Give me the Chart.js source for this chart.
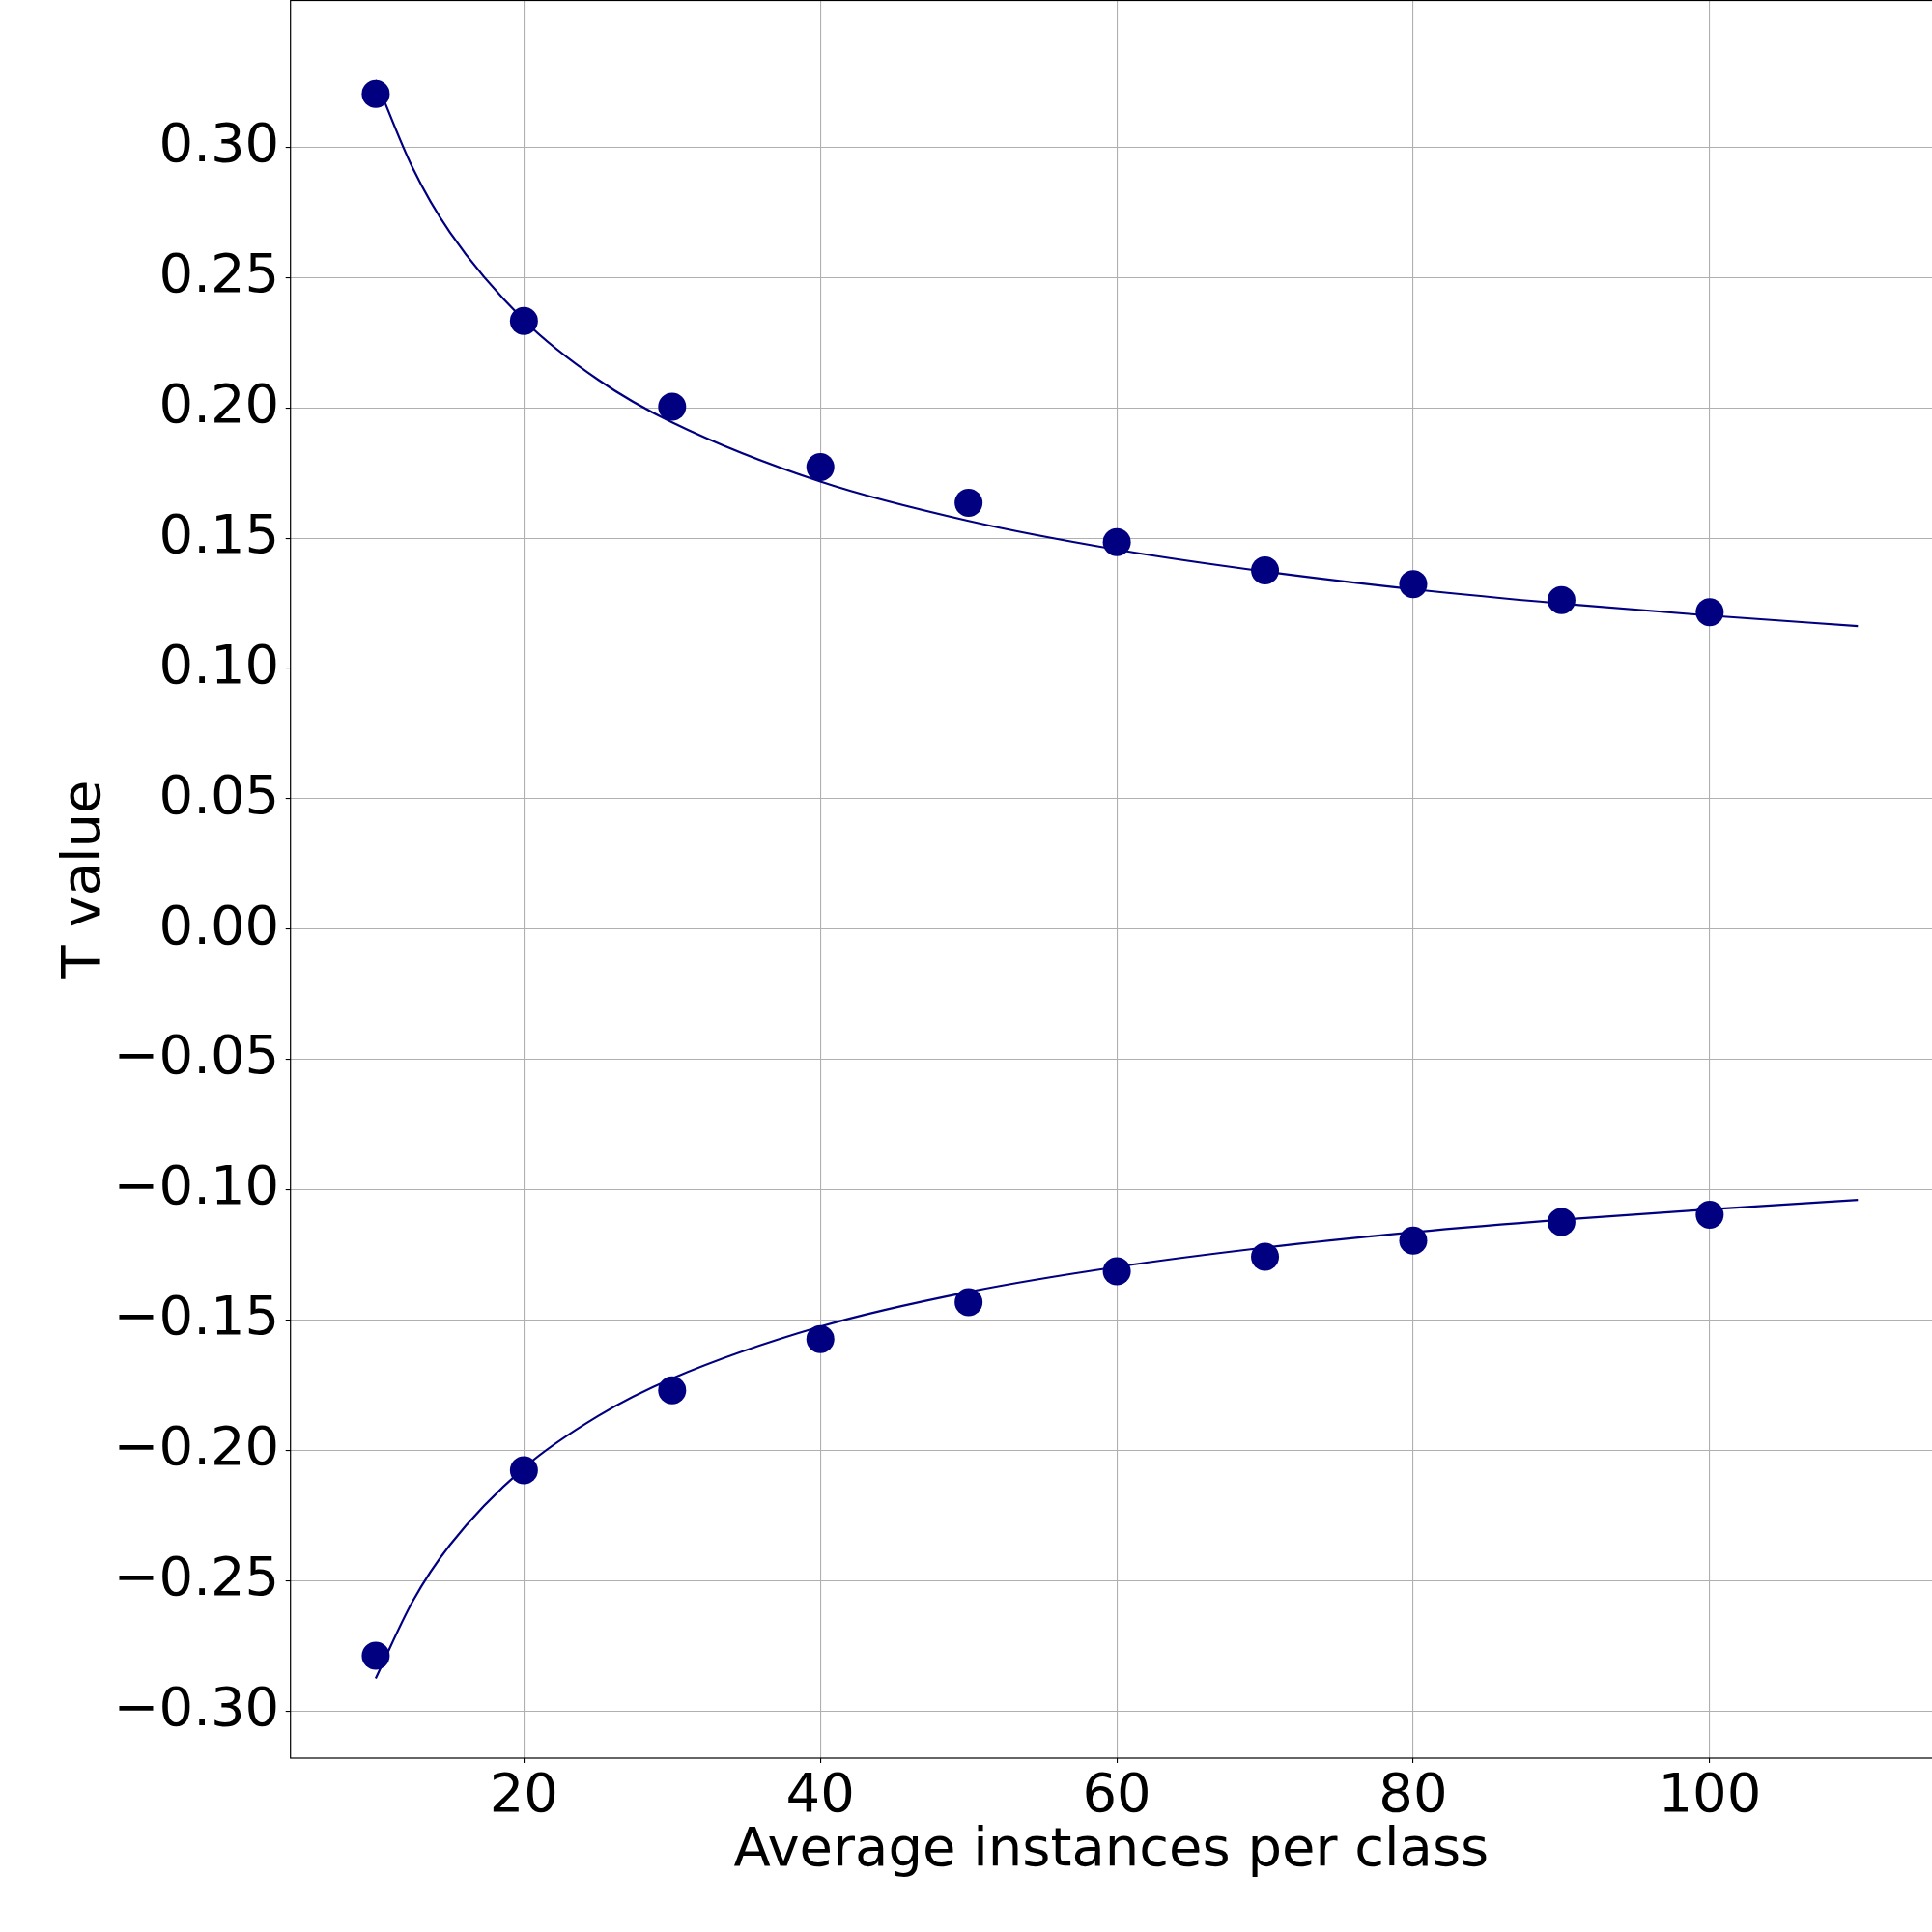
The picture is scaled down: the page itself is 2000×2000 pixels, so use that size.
<!DOCTYPE html>
<html>
<head>
<meta charset="utf-8">
<script src="https://cdn.jsdelivr.net/npm/chart.js@4.4.0/dist/chart.umd.min.js"></script>
<style>
  body { margin: 0; background: #fff; }
  #chart { display: block; }
</style>
</head>
<body>
<canvas id="chart" width="2000" height="2000"></canvas>
<script>
// measured points
const xValues     = [10, 20, 30, 40, 50, 60, 70, 80, 90, 100];
const upperPoints = [0.3204, 0.2333, 0.2004, 0.1773, 0.1636, 0.1485, 0.1376, 0.1323, 0.1262, 0.1216];
const lowerPoints = [-0.2786, -0.2075, -0.1768, -0.1572, -0.1430, -0.1312, -0.1256, -0.1194, -0.1123, -0.1095];

// fitted curves
const curveX     = [10, 12.5, 15, 20, 25, 30, 40, 50, 60, 70, 80, 90, 100, 110];
const upperCurve = [0.3257, 0.2919, 0.2673, 0.2336, 0.2108, 0.1944, 0.1717, 0.1566, 0.1456, 0.1372, 0.1304, 0.1249, 0.1203, 0.1163];
const lowerCurve = [-0.2873, -0.2577, -0.2362, -0.2066, -0.1867, -0.1723, -0.1524, -0.1391, -0.1295, -0.1221, -0.1162, -0.1114, -0.1074, -0.1038];

const xTicks = [20, 40, 60, 80, 100];
const yTicks = [-0.30, -0.25, -0.20, -0.15, -0.10, -0.05, 0.00, 0.05, 0.10, 0.15, 0.20, 0.25, 0.30];

const navy = '#000080';
const font = { family: 'DejaVu Sans', size: 56 };

function pairs(xs, ys) {
    return xs.map((x, i) => ({ x: x, y: ys[i] }));
}

const frame = {
    id: 'frame',
    afterDraw(chart) {
        const a = chart.chartArea;
        const ctx = chart.ctx;
        ctx.save();
        ctx.strokeStyle = '#000';
        ctx.lineWidth = 1.2;
        ctx.strokeRect(a.left, a.top + 0.5, a.right - a.left + 2, a.bottom - a.top - 0.5);
        ctx.restore();
    }
};

const curveStyle = {
    showLine: true,
    borderColor: navy,
    borderWidth: 2.2,
    pointRadius: 0,
    cubicInterpolationMode: 'monotone',
    order: 0
};
const dotStyle = {
    showLine: false,
    backgroundColor: navy,
    borderColor: navy,
    borderWidth: 0,
    pointRadius: 14.5,
    order: 1
};

new Chart(document.getElementById('chart').getContext('2d'), {
    type: 'scatter',
    data: {
        datasets: [
            Object.assign({ label: 'upper fit', data: pairs(curveX, upperCurve) }, curveStyle),
            Object.assign({ label: 'lower fit', data: pairs(curveX, lowerCurve) }, curveStyle),
            Object.assign({ label: 'upper', data: pairs(xValues, upperPoints) }, dotStyle),
            Object.assign({ label: 'lower', data: pairs(xValues, lowerPoints) }, dotStyle)
        ]
    },
    options: {
        responsive: false,
        devicePixelRatio: 1,
        animation: false,
        layout: { padding: 0, autoPadding: false },
        plugins: { legend: { display: false }, tooltip: { enabled: false } },
        scales: {
            x: {
                type: 'linear',
                min: 4.25,
                max: 115.0,
                z: 1,
                afterBuildTicks: s => { s.ticks = xTicks.map(v => ({ value: v })); },
                afterFit: s => {
                    s.height = 180;
                    s.paddingLeft = 0; s.paddingRight = 0;
                },
                grid: { color: '#b0b0b0', lineWidth: 1.1, tickLength: 5, tickColor: '#000', tickWidth: 1.1 },
                border: { display: false },
                ticks: { color: '#000', font: font, padding: 2, maxRotation: 0, callback: v => String(v) },
                title: {
                    display: true,
                    text: 'Average instances per class',
                    color: '#000',
                    font: font,
                    padding: { top: 0, bottom: 50 }
                }
            },
            y: {
                type: 'linear',
                min: -0.3179,
                max: 0.3564,
                z: 1,
                afterBuildTicks: s => { s.ticks = yTicks.map(v => ({ value: v })); },
                afterFit: s => {
                    s.width = 300.7;
                    s.paddingTop = 0; s.paddingBottom = 0;
                },
                grid: { color: '#b0b0b0', lineWidth: 1.1, tickLength: 5, tickColor: '#000', tickWidth: 1.1 },
                border: { display: false },
                ticks: {
                    color: '#000',
                    font: font,
                    padding: 6.5,
                    callback: v => (v < -1e-9 ? '\u2212' : '') + Math.abs(v).toFixed(2)
                },
                title: {
                    display: true,
                    text: 'T value',
                    color: '#000',
                    font: font,
                    padding: { top: 55, bottom: 0 }
                }
            }
        }
    },
    plugins: [frame]
});
</script>
</body>
</html>
